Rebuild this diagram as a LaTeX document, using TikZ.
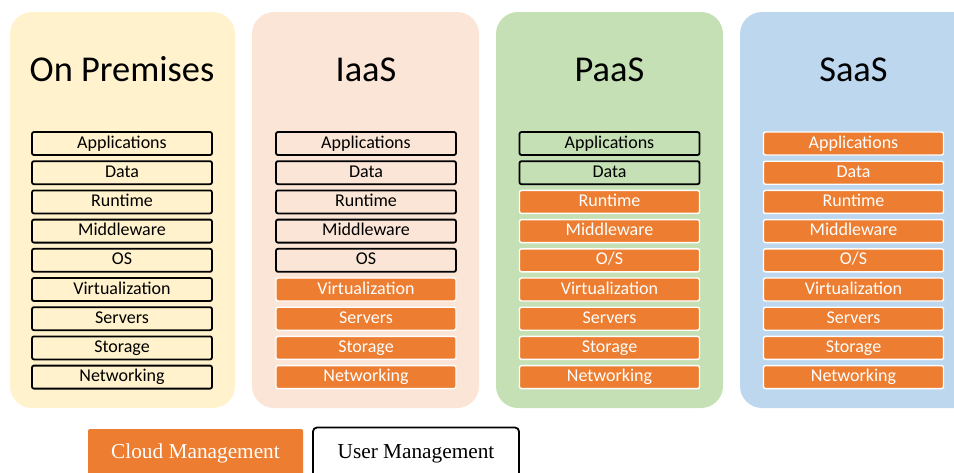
\documentclass[tikz,border=0pt]{standalone}
\usepackage{fontspec}
\setmainfont{Carlito}
\newfontfamily\legendfont{Liberation Serif}
\definecolor{premcol}{HTML}{FFF2CC}
\definecolor{iaascol}{HTML}{FBE5D6}
\definecolor{paascol}{HTML}{C5E0B4}
\definecolor{saascol}{HTML}{BDD7EE}
\definecolor{cloudcol}{HTML}{ED7D31}
\tikzset{
  panel/.style={rounded corners=22pt},
  title/.style={anchor=base, font=\fontsize{36.4}{40}\selectfont},
  layer/.style={minimum width=180pt, minimum height=23pt, inner sep=0pt,
    text height=12.5pt, text depth=3.5pt, rounded corners=2pt,
    font=\fontsize{18}{20}\selectfont},
  own/.style={layer, draw=black, line width=1.8pt},
  vendor/.style={layer, fill=cloudcol, draw=white, line width=1.4pt, text=white},
}
\begin{document}
\begin{tikzpicture}[x=1pt, y=-1pt]
      \useasboundingbox (0,0) rectangle (954,472);
      \clip (0,0) rectangle (954,472);
      % panels
      \fill[panel, premcol] (10,12) rectangle (235,408);
      \fill[panel, iaascol] (252,12) rectangle (479,408);
      \fill[panel, paascol] (496,12) rectangle (723,408);
      \fill[panel, saascol] (740,12) rectangle (980,408);
      \path
        (122,81) node[title] (t1) {On Premises}
        (366,81) node[title] (t2) {IaaS}
        (609.5,81) node[title] (t3) {PaaS}
        (853.5,81) node[title] (t4) {SaaS};
      % on premises
      \path
        (122,143.5) node[own] (p1) {Applications}
        (122,172.7) node[own] (p2) {Data}
        (122,201.9) node[own] (p3) {Runtime}
        (122,231.1) node[own] (p4) {Middleware}
        (122,260.3) node[own] (p5) {OS}
        (122,289.5) node[own] (p6) {Virtualization}
        (122,318.7) node[own] (p7) {Servers}
        (122,347.9) node[own] (p8) {Storage}
        (122,377.1) node[own] (p9) {Networking};
      % iaas
      \path
        (366,143.5) node[own] (i1) {Applications}
        (366,172.7) node[own] (i2) {Data}
        (366,201.9) node[own] (i3) {Runtime}
        (366,231.1) node[own] (i4) {Middleware}
        (366,260.3) node[own] (i5) {OS}
        (366,289.5) node[vendor] (i6) {Virtualization}
        (366,318.7) node[vendor] (i7) {Servers}
        (366,347.9) node[vendor] (i8) {Storage}
        (366,377.1) node[vendor] (i9) {Networking};
      % paas
      \path
        (609.5,143.5) node[own] (a1) {Applications}
        (609.5,172.7) node[own] (a2) {Data}
        (609.5,201.9) node[vendor] (a3) {Runtime}
        (609.5,231.1) node[vendor] (a4) {Middleware}
        (609.5,260.3) node[vendor] (a5) {O/S}
        (609.5,289.5) node[vendor] (a6) {Virtualization}
        (609.5,318.7) node[vendor] (a7) {Servers}
        (609.5,347.9) node[vendor] (a8) {Storage}
        (609.5,377.1) node[vendor] (a9) {Networking};
      % saas
      \path
        (853.5,143.5) node[vendor] (s1) {Applications}
        (853.5,172.7) node[vendor] (s2) {Data}
        (853.5,201.9) node[vendor] (s3) {Runtime}
        (853.5,231.1) node[vendor] (s4) {Middleware}
        (853.5,260.3) node[vendor] (s5) {O/S}
        (853.5,289.5) node[vendor] (s6) {Virtualization}
        (853.5,318.7) node[vendor] (s7) {Servers}
        (853.5,347.9) node[vendor] (s8) {Storage}
        (853.5,377.1) node[vendor] (s9) {Networking};
      % legend
      \path
        (195.5,453.5) node[fill=cloudcol, text=white, minimum width=215pt,
          minimum height=49pt, rounded corners=2pt,
          font=\legendfont\fontsize{21.3}{24}\selectfont] (cloud) {Cloud Management}
        (416,453.5) node[draw=black, line width=1.8pt, minimum width=206pt,
          minimum height=52pt, rounded corners=4pt,
          font=\legendfont\fontsize{21.3}{24}\selectfont] (user) {User Management};
    \end{tikzpicture}
\end{document}
